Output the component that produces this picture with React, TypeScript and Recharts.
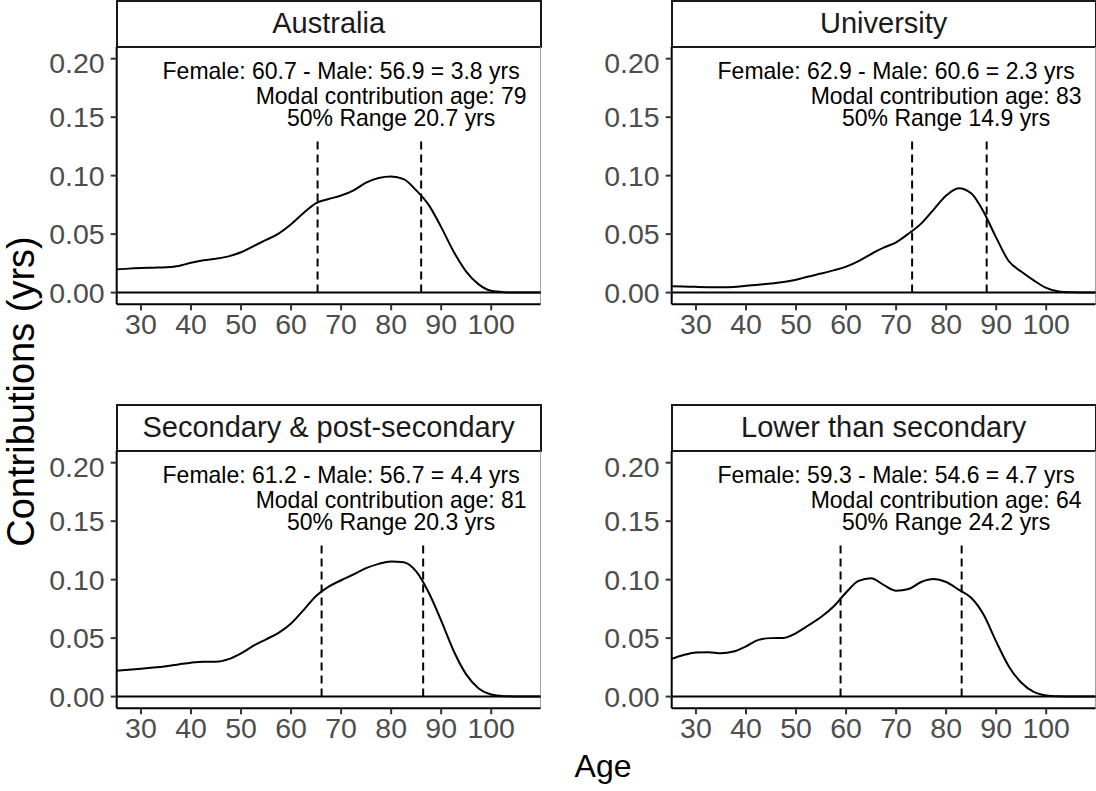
import { LineChart, Line, XAxis, YAxis, ReferenceLine, ReferenceDot } from 'recharts';

const FONT = '"Liberation Sans", Arial, Helvetica, sans-serif';

const ages = [
  25, 27.5, 30, 32.5, 35, 37.5, 40, 42.5, 45, 47.5, 50, 52.5, 55, 57.5, 60, 62.5, 65, 67.5,
  70, 72.5, 75, 77.5, 80, 82.5, 85, 87.5, 90, 92.5, 95, 97.5, 100, 102.5, 105, 107.5, 110,
];

const australia = [
  0.0197, 0.0205, 0.021, 0.0213, 0.0217, 0.0228, 0.0255, 0.0277, 0.029, 0.031, 0.0345, 0.0398,
  0.045, 0.0505, 0.0585, 0.068, 0.0765, 0.08, 0.083, 0.0875, 0.094, 0.098, 0.0993, 0.097, 0.0875,
  0.075, 0.056, 0.035, 0.018, 0.007, 0.0015, 0.0003, 0, 0, 0,
];

const university = [
  0.0054, 0.0052, 0.0049, 0.0046, 0.0045, 0.0048, 0.0058, 0.0068, 0.0078, 0.009, 0.011, 0.0138,
  0.0163, 0.019, 0.0222, 0.027, 0.033, 0.0385, 0.043, 0.0505, 0.059, 0.071, 0.083, 0.0893, 0.085,
  0.069, 0.047, 0.027, 0.018, 0.0105, 0.004, 0.001, 0.0003, 0.0001, 0,
];

const secondary = [
  0.022, 0.023, 0.0238, 0.0248, 0.026, 0.0275, 0.029, 0.0298, 0.0298, 0.032, 0.037, 0.0435,
  0.049, 0.0545, 0.0625, 0.074, 0.086, 0.094, 0.0995, 0.1045, 0.1098, 0.1135, 0.1155, 0.1148,
  0.107, 0.089, 0.065, 0.039, 0.019, 0.007, 0.0018, 0.0004, 0.0001, 0, 0,
];

const lower = [
  0.032, 0.0355, 0.0378, 0.038, 0.037, 0.0385, 0.043, 0.0485, 0.05, 0.0502, 0.0543, 0.061, 0.068,
  0.077, 0.089, 0.099, 0.1013, 0.0955, 0.0905, 0.092, 0.098, 0.1005, 0.098, 0.0915, 0.0845, 0.07,
  0.047, 0.026, 0.012, 0.004, 0.001, 0.0002, 0, 0, 0,
];

// 50% range bounds (dashed lines)
const australiaRange = [65.3, 86.0];
const universityRange = [73.2, 88.1];
const secondaryRange = [66.1, 86.4];
const lowerRange = [58.9, 83.1];

const australiaNotes = ['Female: 60.7 - Male: 56.9 = 3.8 yrs', 'Modal contribution age: 79', '50% Range 20.7 yrs'];
const universityNotes = ['Female: 62.9 - Male: 60.6 = 2.3 yrs', 'Modal contribution age: 83', '50% Range 14.9 yrs'];
const secondaryNotes = ['Female: 61.2 - Male: 56.7 = 4.4 yrs', 'Modal contribution age: 81', '50% Range 20.3 yrs'];
const lowerNotes = ['Female: 59.3 - Male: 54.6 = 4.7 yrs', 'Modal contribution age: 64', '50% Range 24.2 yrs'];

const xTicks = [30, 40, 50, 60, 70, 80, 90, 100];
const yTicks = [0, 0.05, 0.1, 0.15, 0.2];

const noteX = [70, 80, 80];
const noteY = [0.19, 0.1686, 0.1492];

interface PanelProps {
  left: number;
  top: number;
  title: string;
  values: number[];
  range: number[];
  notes: string[];
}

function Panel({ left, top, title, values, range, notes }: PanelProps) {
  const data = ages.map((age, i) => ({ age, value: values[i] }));
  return (
    <>
      <div
        style={{
          position: 'absolute',
          left: left + 115.7,
          top: top - 46.7,
          width: 426,
          height: 47.7,
          boxSizing: 'border-box',
          border: '2px solid #1a1a1a',
          background: '#fff',
          display: 'flex',
          alignItems: 'center',
          justifyContent: 'center',
          fontFamily: FONT,
          fontSize: 29,
          color: '#1a1a1a',
        }}
      >
        {title}
      </div>
      <div style={{ position: 'absolute', left, top }}>
        <LineChart
          width={541}
          height={307.3}
          data={data}
          margin={{ top: 0, right: 0.5, bottom: 0, left: 0 }}
        >
          <XAxis
            dataKey="age"
            type="number"
            domain={[25.15, 109.85]}
            ticks={xTicks}
            allowDataOverflow
            height={50}
            tickSize={6}
            tickMargin={3}
            axisLine={{ stroke: '#000', strokeWidth: 2 }}
            tickLine={{ stroke: '#333', strokeWidth: 2 }}
            tick={{ fill: '#4d4d4d', fontSize: 28.5, fontFamily: FONT }}
          />
          <YAxis
            type="number"
            domain={[-0.01, 0.21]}
            ticks={yTicks}
            allowDataOverflow
            width={116.7}
            tickSize={6}
            tickMargin={6}
            tickFormatter={(v: number) => v.toFixed(2)}
            axisLine={{ stroke: '#000', strokeWidth: 2 }}
            tickLine={{ stroke: '#333', strokeWidth: 2 }}
            tick={{ fill: '#4d4d4d', fontSize: 28.5, fontFamily: FONT }}
          />
          <ReferenceLine x={109.85} stroke="#a0a0a0" strokeWidth={1} />
          <ReferenceLine y={0} stroke="#000" strokeWidth={2} />
          {range.map((r) => (
            <ReferenceLine
              key={r}
              segment={[{ x: r, y: 0 }, { x: r, y: 0.13 }]}
              stroke="#000"
              strokeWidth={2}
              strokeDasharray="8 5"
            />
          ))}
          <Line
            type="monotone"
            dataKey="value"
            stroke="#000"
            strokeWidth={2}
            dot={false}
            activeDot={false}
            isAnimationActive={false}
          />
          {notes.map((n, i) => (
            <ReferenceDot
              key={n}
              x={noteX[i]}
              y={noteY[i]}
              r={0}
              shape={(p: any) => (
                <text
                  x={p.cx}
                  y={p.cy}
                  dy="0.36em"
                  textAnchor="middle"
                  fontSize={23}
                  fontFamily={FONT}
                  fill="#000"
                >
                  {n}
                </text>
              )}
            />
          ))}
        </LineChart>
      </div>
    </>
  );
}

export default function App() {
  return (
    <div
      style={{
        position: 'absolute',
        left: 0,
        top: 0,
        width: 1096,
        height: 791,
        background: '#fff',
        overflow: 'hidden',
      }}
    >
      <Panel left={0} top={46.7} title="Australia" values={australia} range={australiaRange} notes={australiaNotes} />
      <Panel left={555} top={46.7} title="University" values={university} range={universityRange} notes={universityNotes} />
      <Panel left={0} top={450.7} title="Secondary & post-secondary" values={secondary} range={secondaryRange} notes={secondaryNotes} />
      <Panel left={555} top={450.7} title="Lower than secondary" values={lower} range={lowerRange} notes={lowerNotes} />
      <svg
        width={1096}
        height={791}
        style={{ position: 'absolute', left: 0, top: 0, pointerEvents: 'none' }}
      >
        <text x={603} y={777} textAnchor="middle" fontSize={32} fontFamily={FONT} fill="#000">
          Age
        </text>
        <text
          transform="translate(34, 391.5) rotate(-90)"
          textAnchor="middle"
          fontSize={38}
          fontFamily={FONT}
          fill="#000"
        >
          Contributions (yrs)
        </text>
      </svg>
    </div>
  );
}
